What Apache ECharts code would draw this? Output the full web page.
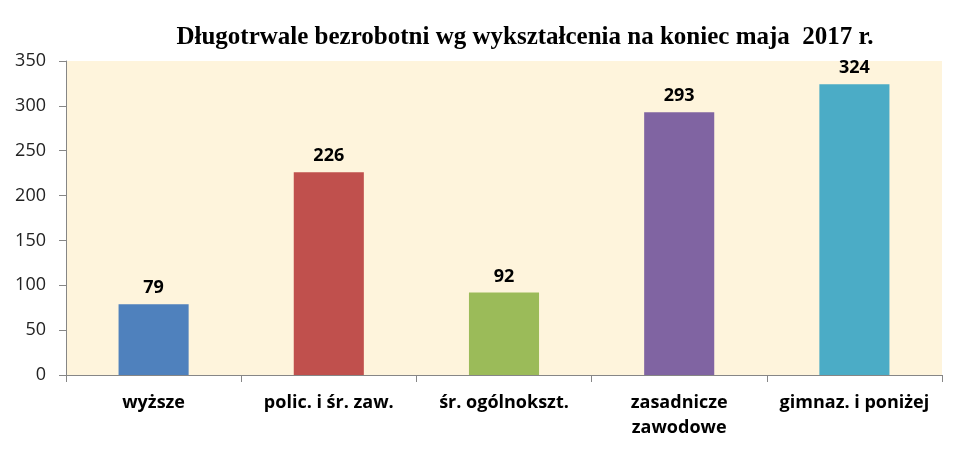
<!DOCTYPE html>
<html><head><meta charset="utf-8">
<script src="https://cdn.jsdelivr.net/npm/echarts@6/dist/echarts.min.js"></script>
<style>html,body{margin:0;padding:0;background:#fff}#c{width:980px;height:464px}</style>
</head><body><div id="c"></div>
<script>
const title = 'Długotrwale bezrobotni wg wykształcenia na koniec maja  2017 r.';
const categories = ['wyższe', 'polic. i śr. zaw.', 'śr. ogólnokszt.', 'zasadnicze\nzawodowe', 'gimnaz. i poniżej'];
const values = [79, 226, 92, 293, 324];
const colors = ['#4F81BD', '#C0504D', '#9BBB59', '#8064A2', '#4BACC6'];
const yTicks = [0, 50, 100, 150, 200, 250, 300, 350];

const chart = echarts.init(document.getElementById('c'), null, {renderer: 'canvas'});
chart.setOption({
  animation: false,
  backgroundColor: '#ffffff',
  title: {
    text: title, left: 520, textAlign: 'center', top: 20,
    textStyle: {fontFamily: 'Liberation Serif', fontWeight: 'bold', fontSize: 25, color: '#000'}
  },
  grid: {left: 66, right: 38, top: 61, bottom: 89, show: true, backgroundColor: '#FEF4DC', borderWidth: 0},
  xAxis: {
    type: 'category', data: categories,
    axisLine: {lineStyle: {color: '#868686', width: 1}},
    axisTick: {show: true, length: 7, lineStyle: {color: '#868686'}},
    axisLabel: {interval: 0, margin: 15, fontFamily: 'Open Sans', fontWeight: 'bold', fontSize: 18, color: '#000', lineHeight: 25}
  },
  yAxis: {
    type: 'value', min: 0, max: 350, interval: 50,
    axisLine: {show: true, lineStyle: {color: '#868686', width: 1}},
    axisTick: {show: true, length: 7, lineStyle: {color: '#868686'}},
    splitLine: {show: false},
    axisLabel: {margin: 20, fontFamily: 'Open Sans', fontSize: 18, color: '#222',
      formatter: v => yTicks.includes(v) ? String(v) : ''}
  },
  series: [{
    type: 'bar', data: values.map((v, i) => ({value: v, itemStyle: {color: colors[i]}})),
    barWidth: '40%',
    label: {show: true, position: 'top', distance: 7, fontFamily: 'Open Sans', fontWeight: 'bold', fontSize: 18, color: '#000'}
  }]
});
</script></body></html>
